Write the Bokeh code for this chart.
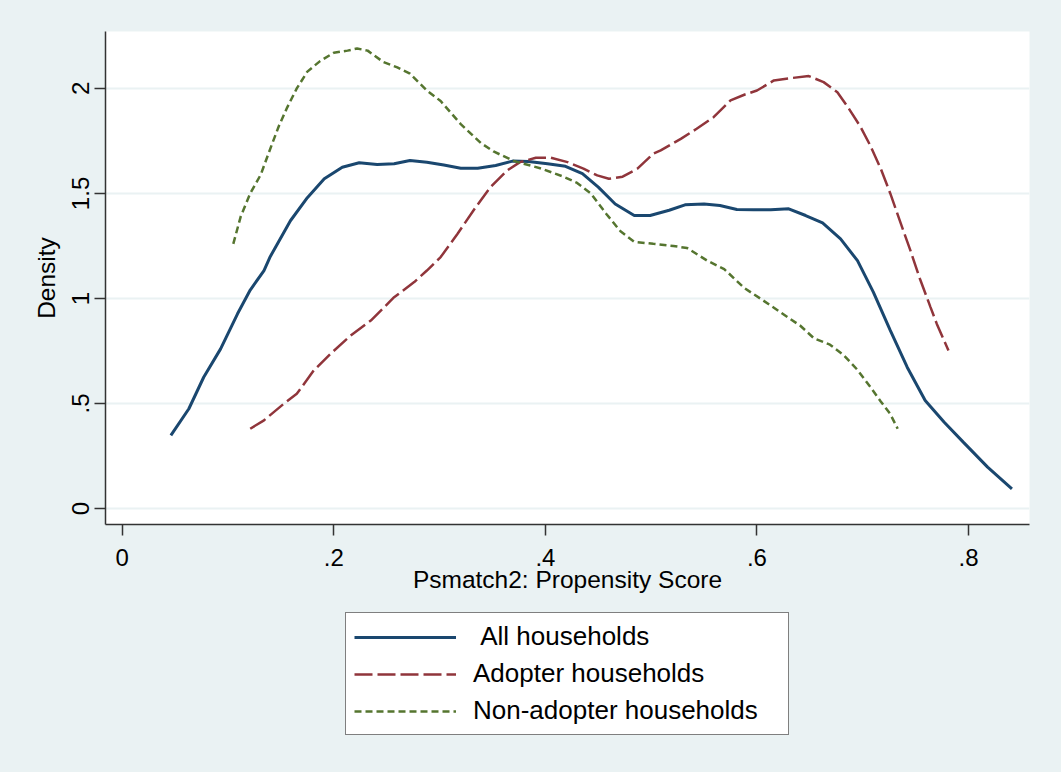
from bokeh.plotting import figure
from bokeh.models import Range1d, FixedTicker, Legend, LegendItem
from bokeh.layouts import column
from bokeh.embed import file_html
from bokeh.resources import INLINE

# ---- data ----
all_x = [0.046, 0.063, 0.077, 0.093, 0.109, 0.121, 0.134, 0.140, 0.159, 0.175, 0.191, 0.208, 0.224,
         0.241, 0.257, 0.272, 0.288, 0.304, 0.320, 0.336, 0.353, 0.369, 0.384, 0.402, 0.419, 0.435,
         0.450, 0.466, 0.484, 0.499, 0.517, 0.532, 0.550, 0.565, 0.581, 0.597, 0.613, 0.630, 0.646,
         0.662, 0.679, 0.695, 0.710, 0.726, 0.742, 0.759, 0.777, 0.795, 0.818, 0.841]
all_y = [0.348, 0.475, 0.625, 0.760, 0.927, 1.040, 1.133, 1.200, 1.370, 1.480, 1.570, 1.625, 1.646,
         1.638, 1.641, 1.657, 1.649, 1.635, 1.620, 1.620, 1.633, 1.654, 1.652, 1.641, 1.629, 1.594,
         1.530, 1.450, 1.395, 1.395, 1.420, 1.446, 1.450, 1.443, 1.424, 1.423, 1.422, 1.427, 1.395,
         1.360, 1.284, 1.180, 1.030, 0.848, 0.673, 0.514, 0.411, 0.316, 0.197, 0.094]

adopt_x = [0.121, 0.134, 0.153, 0.165, 0.181, 0.197, 0.216, 0.235, 0.257, 0.276, 0.288, 0.301, 0.317,
           0.332, 0.348, 0.364, 0.376, 0.391, 0.405, 0.421, 0.436, 0.449, 0.460, 0.473, 0.487, 0.502,
           0.509, 0.528, 0.543, 0.559, 0.575, 0.588, 0.600, 0.616, 0.632, 0.649, 0.663, 0.676, 0.687,
           0.698, 0.707, 0.717, 0.726, 0.736, 0.745, 0.754, 0.764, 0.770, 0.781]
adopt_y = [0.380, 0.420, 0.500, 0.546, 0.657, 0.737, 0.824, 0.895, 1.006, 1.078, 1.133, 1.197, 1.308,
           1.419, 1.530, 1.610, 1.649, 1.670, 1.670, 1.649, 1.618, 1.586, 1.570, 1.580, 1.618, 1.689,
           1.705, 1.760, 1.808, 1.863, 1.943, 1.970, 1.990, 2.038, 2.049, 2.059, 2.030, 1.982, 1.903,
           1.816, 1.729, 1.618, 1.500, 1.356, 1.229, 1.094, 0.959, 0.879, 0.752]

non_x = [0.105, 0.112, 0.121, 0.131, 0.139, 0.148, 0.156, 0.165, 0.175, 0.187, 0.200, 0.213, 0.222,
         0.232, 0.247, 0.260, 0.272, 0.288, 0.301, 0.320, 0.339, 0.351, 0.370, 0.395, 0.417, 0.430,
         0.443, 0.458, 0.471, 0.484, 0.502, 0.521, 0.534, 0.553, 0.569, 0.588, 0.606, 0.622, 0.641,
         0.654, 0.669, 0.682, 0.695, 0.707, 0.717, 0.726, 0.733]
non_y = [1.260, 1.390, 1.500, 1.590, 1.700, 1.820, 1.910, 2.000, 2.080, 2.130, 2.170, 2.180, 2.190,
         2.180, 2.125, 2.100, 2.070, 1.990, 1.940, 1.830, 1.740, 1.700, 1.655, 1.620, 1.580, 1.550,
         1.500, 1.400, 1.320, 1.270, 1.260, 1.250, 1.240, 1.180, 1.140, 1.050, 0.990, 0.935, 0.870,
         0.810, 0.780, 0.730, 0.660, 0.580, 0.510, 0.450, 0.380]

x_ticks = [0, 0.2, 0.4, 0.6, 0.8]
x_tick_labels = ["0", ".2", ".4", ".6", ".8"]
y_ticks = [0, 0.5, 1, 1.5, 2]
y_tick_labels = ["0", ".5", "1", "1.5", "2"]
series_names = ["\u00a0All households", "Adopter households", "Non-adopter households"]

# ---- styling ----
BG = "#EAF2F3"
NAVY = "#1A476F"
MAROON = "#90353B"
GREEN = "#55752F"
FONT = "Liberation Sans"
STYLES = [dict(line_color=NAVY, line_width=3),
          dict(line_color=MAROON, line_width=2.5, line_dash="18 5"),
          dict(line_color=GREEN, line_width=2.5, line_dash="7 4")]
SERIES = [(all_x, all_y), (adopt_x, adopt_y), (non_x, non_y)]

p = figure(output_backend="svg", toolbar_location=None,
           width=1061, height=604,
           min_border_left=105, min_border_right=32, min_border_top=31, min_border_bottom=80,
           x_range=Range1d(-0.0158, 0.8576), y_range=Range1d(-0.076, 2.271))
p.border_fill_color = BG
p.background_fill_color = "white"
p.outline_line_color = None

for (xs, ys), s in zip(SERIES, STYLES):
    p.line(xs, ys, **s)

for ax in (p.xaxis[0], p.yaxis[0]):
    ax.axis_line_color = "#333333"
    ax.axis_line_width = 1.5
    ax.major_tick_line_color = "#333333"
    ax.major_tick_line_width = 1.5
    ax.major_tick_out = 11
    ax.major_tick_in = 0
    ax.minor_tick_out = 0
    ax.minor_tick_in = 0
    ax.major_label_text_font = FONT
    ax.major_label_text_font_size = "24px"
    ax.major_label_text_color = "black"
    ax.axis_label_text_font = FONT
    ax.axis_label_text_font_size = "24.5px"
    ax.axis_label_text_font_style = "normal"
    ax.axis_label_text_color = "black"

p.xaxis[0].ticker = FixedTicker(ticks=x_ticks)
p.xaxis[0].major_label_overrides = dict(zip(x_ticks, x_tick_labels))
p.xaxis[0].axis_label = "Psmatch2: Propensity Score"
p.xaxis[0].major_label_standoff = 13
p.xaxis[0].axis_label_standoff = -3

p.yaxis[0].ticker = FixedTicker(ticks=y_ticks)
p.yaxis[0].major_label_overrides = dict(zip(y_ticks, y_tick_labels))
p.yaxis[0].major_label_orientation = "vertical"
p.yaxis[0].axis_label = "Density"
p.yaxis[0].major_label_standoff = 5
p.yaxis[0].axis_label_standoff = 10

p.xgrid.visible = False
p.ygrid.grid_line_color = BG
p.ygrid.grid_line_width = 2
p.ygrid.ticker = FixedTicker(ticks=y_ticks)

# ---- legend panel (below the plot); key lines use the same series, kept off-screen ----
lg = figure(output_backend="svg", toolbar_location=None, width=1061, height=168,
            min_border=0, x_range=Range1d(10, 11), y_range=Range1d(10, 11))
lg.axis.visible = False
lg.grid.visible = False
lg.border_fill_color = BG
lg.background_fill_color = BG
lg.outline_line_color = None
key_renderers = [lg.line(xs, ys, **s) for (xs, ys), s in zip(SERIES, STYLES)]

legend = Legend(items=[LegendItem(label=n, renderers=[r]) for n, r in zip(series_names, key_renderers)],
                location=(240, 37), orientation="vertical",
                margin=0, padding=8, spacing=6,
                glyph_width=102, glyph_height=30, label_height=30, label_width=307,
                label_standoff=17,
                label_text_font=FONT, label_text_font_size="26px", label_text_color="black",
                border_line_color="black", border_line_width=1,
                background_fill_color="white", background_fill_alpha=1.0)
lg.add_layout(legend)

layout = column(p, lg, spacing=0, styles={"background-color": BG})
open("out.html", "w").write(file_html(layout, INLINE))
